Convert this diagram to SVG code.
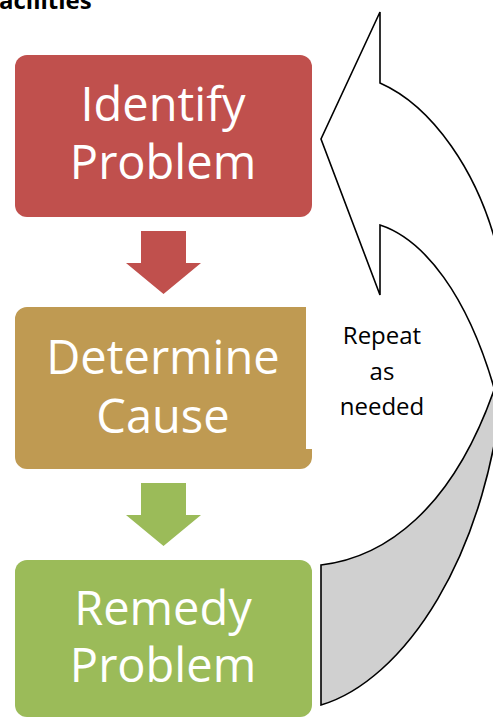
<svg xmlns="http://www.w3.org/2000/svg" width="493" height="718" viewBox="0 0 493 718">
<style>
.big{font-family:"Open Sans","Liberation Sans",sans-serif;font-size:47px;fill:#fff;text-anchor:middle}
.rep{font-family:"Open Sans","Liberation Sans",sans-serif;font-size:24px;fill:#000;text-anchor:middle}
.ttl{font-family:"Open Sans","Liberation Sans",sans-serif;font-size:24px;font-weight:bold;fill:#000}
.loop{stroke:#000;stroke-width:1.6;stroke-linejoin:miter}
</style>
<rect width="493" height="718" fill="#fff"/>
<text class="ttl" x="-1" y="9">acilities</text>

<g id="loop-arrow">
  <path class="loop" fill="#fff" d="M380,12 L321,139 L380,295 L380,225 C420,238 470,290 500,410 L540,410 L540,260 L500,260 C480,170 430,105 380,83 Z"/>
  <path class="loop" fill="#d0d0d0" d="M321,565 C380,558 455,515 500,372 L540,372 L540,360 L505,360 C492,560 400,682 321,705 Z"/>
  <text class="rep" x="382" y="344">Repeat</text>
  <text class="rep" x="382" y="380">as</text>
  <text class="rep" x="382" y="415">needed</text>
</g>

<g id="identify">
  <rect x="15" y="55" width="297" height="162" rx="12" fill="#C0504D"/>
  <text class="big" x="163" y="121">Identify</text>
  <text class="big" x="163" y="179">Problem</text>
</g>

<g id="cause">
  <path fill="#BF9A52" d="M27,307 H306 V449 H312 V457 A12,12 0 0 1 300,469 H27 A12,12 0 0 1 15,457 V319 A12,12 0 0 1 27,307 Z"/>
  <text class="big" x="163" y="374">Determine</text>
  <text class="big" x="163" y="433">Cause</text>
</g>

<g id="remedy">
  <rect x="15" y="560" width="297" height="157" rx="12" fill="#9BBB59"/>
  <text class="big" x="163" y="625">Remedy</text>
  <text class="big" x="163" y="682">Problem</text>
</g>

<g id="connectors">
  <polygon fill="#C0504D" points="141,231 186,231 186,263 201,263 163.5,294 126,263 141,263"/>
  <polygon fill="#9BBB59" points="141,483 186,483 186,515 201,515 163.5,546 126,515 141,515"/>
</g>
</svg>
